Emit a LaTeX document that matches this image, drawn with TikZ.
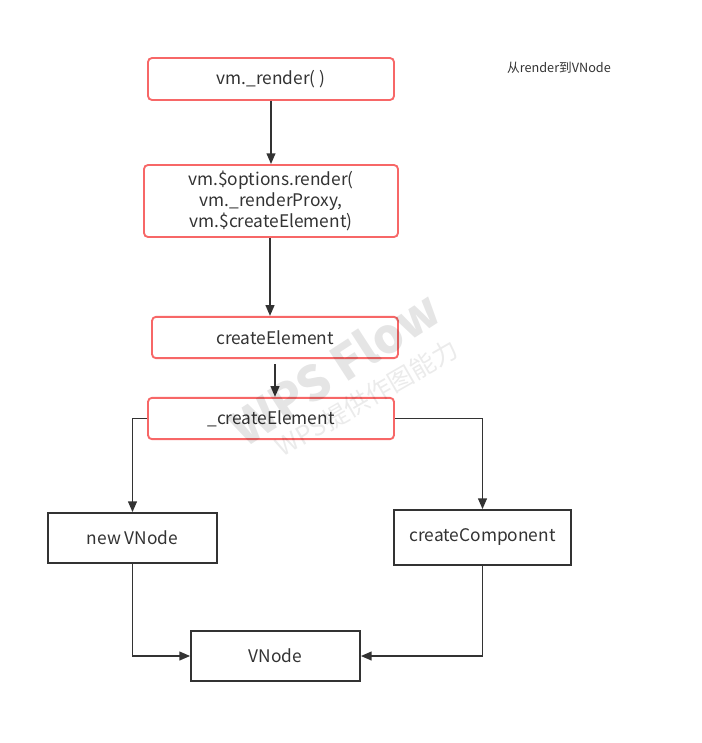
\documentclass[tikz,border=0pt]{standalone}
\usepackage{fontspec}
\setmainfont{Noto Sans CJK SC}
\usetikzlibrary{arrows.meta}
\definecolor{boxred}{HTML}{F76767}
\definecolor{linegray}{HTML}{333333}
\begin{document}
\begin{tikzpicture}[x=0.75pt,y=-0.75pt,
  redbox/.style={draw=boxred,line width=1.4pt,rounded corners=3pt,fill=white,inner sep=0pt,align=center,font=\fontsize{13}{16}\selectfont,text=linegray},
  blackbox/.style={draw=linegray,line width=1.3pt,fill=white,inner sep=0pt,align=center,font=\fontsize{13}{16}\selectfont,text=linegray},
  conn/.style={draw=linegray,line width=1.35pt,-{Triangle[length=8pt,width=6.5pt]}}]
\useasboundingbox (0,0) rectangle (701,743);
% nodes
\node[redbox,minimum width=184.5pt,minimum height=31.5pt] (render) at (271,79) {vm.\_render( )};
\node[redbox,minimum width=190.5pt,minimum height=54pt] (opts) at (271,201) {vm.\$options.render(\\vm.\_renderProxy,\\vm.\$createElement)};
\node[redbox,minimum width=184.5pt,minimum height=31pt] (ce) at (275,337.5) {createElement};
\node[redbox,minimum width=184.5pt,minimum height=31pt] (uce) at (271,418.5) {\_createElement};
\node[blackbox,minimum width=126.75pt,minimum height=37.5pt] (nv) at (132.5,538) {new VNode};
\node[blackbox,minimum width=132.75pt,minimum height=41.25pt] (cc) at (482.5,537.5) {createComponent};
\node[blackbox,minimum width=126.75pt,minimum height=37.5pt] (vn) at (275.5,656) {VNode};
\node[text=linegray,font=\fontsize{9.5}{12}\selectfont] (title) at (559,68) {从render到VNode};
% connectors
\draw[conn] (render.south) -- (opts.north);
\draw[conn] (opts.south -| 270,0) -- (ce.north -| 270,0);
\draw[conn] ([yshift=-4pt]ce.south) -- (ce.south |- uce.north);
\draw[conn] (uce.west) -| (nv.north);
\draw[conn] (uce.east) -| (cc.north);
\draw[conn] (nv.south) |- (vn.west);
\draw[conn] (cc.south) |- (vn.east);
% watermark
\node[rotate=33,text=black,opacity=0.1,font=\bfseries\fontsize{36}{40}\selectfont] (wm1) at (335,368) {WPS Flow};
\node[rotate=30,text=black,opacity=0.08,font=\fontsize{19}{22}\selectfont] (wm2) at (367,398) {WPS提供作图能力};
\end{tikzpicture}
\end{document}
